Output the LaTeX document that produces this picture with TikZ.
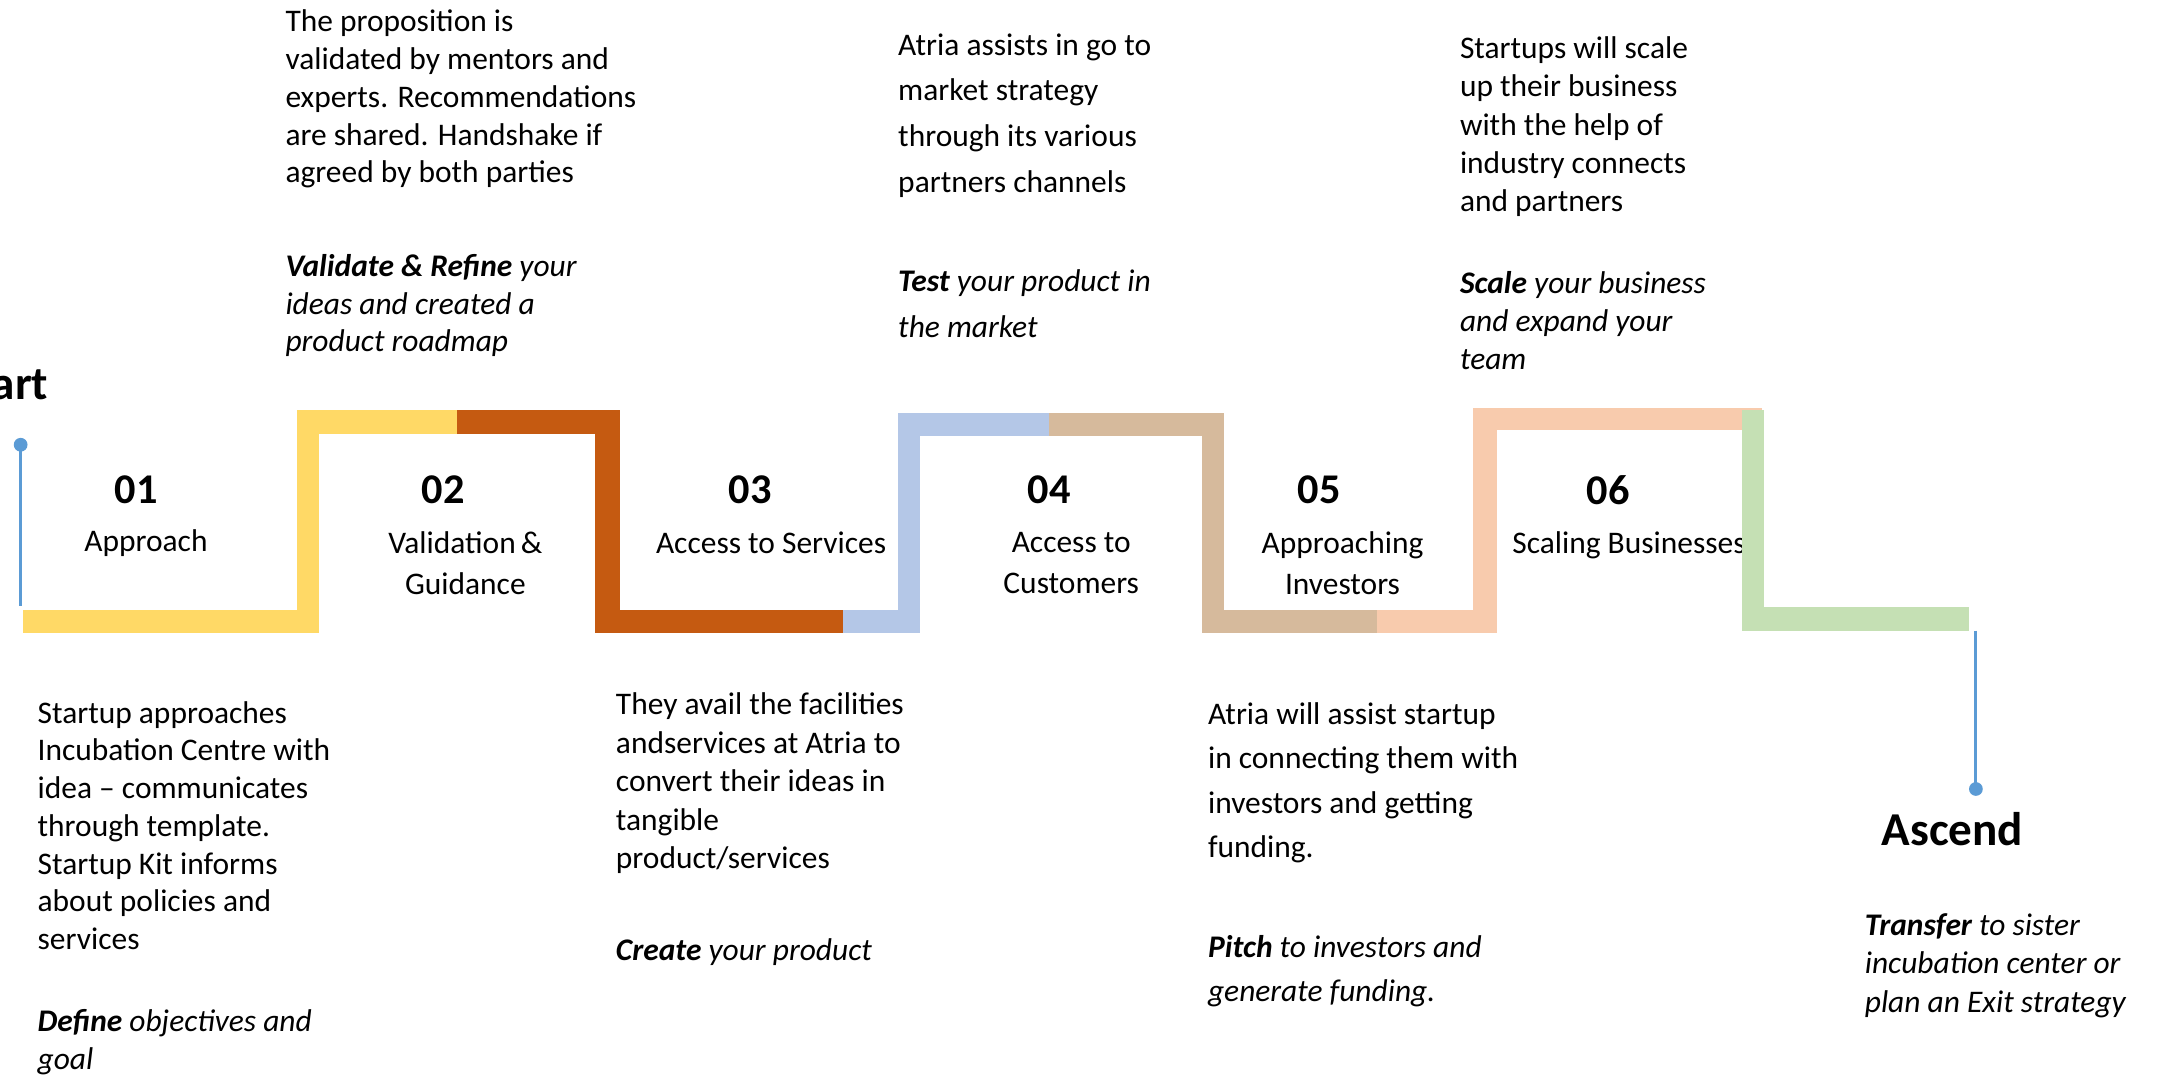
\documentclass[tikz,border=0pt]{standalone}
\usepackage{fontspec}
\setmainfont{Carlito}
\usepackage{tikz}
\usepackage{xcolor}

\definecolor{stepYellow}{HTML}{FFD966}
\definecolor{stepOrange}{HTML}{C55A11}
\definecolor{stepBlue}{HTML}{B4C7E7}
\definecolor{stepTan}{HTML}{D6BA9C}
\definecolor{stepPeach}{HTML}{F8CBAD}
\definecolor{stepGreen}{HTML}{C5E0B4}
\definecolor{pinBlue}{HTML}{5B9BD5}

\begin{document}
\begin{tikzpicture}[
        x=0.02cm, y=-0.02cm,
        desc/.style={anchor=north west, inner sep=0pt, align=left, font=\fontsize{13}{#1}\selectfont},
        desc/.default=15.6pt,
        num/.style={anchor=north, inner sep=0pt, font=\bfseries\fontsize{17.5}{21}\selectfont},
        lbl/.style={anchor=north, inner sep=0pt, align=center, font=\fontsize{13}{17}\selectfont},
        ends/.style={anchor=base, inner sep=0pt, font=\bfseries\fontsize{19.5}{23}\selectfont},
        pin/.style={pinBlue, line width=1.3pt},
    ]
    \useasboundingbox (0,0) rectangle (1568,781);

    % labels first, the bars go over them
    \node[num] (n1) at (99,345) {01};
    \node[num] (n2) at (322,345) {02};
    \node[num] (n3) at (545,345) {03};
    \node[num] (n4) at (762,345) {04};
    \node[num] (n5) at (958,345) {05};
    \node[num] (n6) at (1168,345) {06};

    \node[lbl] (l1) at (106,384) {Approach};
    \node[lbl] (l2) at (338,386) {Validation\,\&\\Guidance};
    \node[lbl] (l3) at (560,386) {Access to Services};
    \node[lbl] (l4) at (778,386) {Access to\\Customers};
    \node[lbl] (l5) at (975,386) {Approaching\\Investors};
    \node[lbl, anchor=north west] (l6) at (1098,386) {Scaling Businesses};

    % the stairs
    \fill[stepYellow] (17,443) rectangle (232,460);
    \fill[stepYellow] (216,298) rectangle (232,460);
    \fill[stepYellow] (216,298) rectangle (332,315);
    \fill[stepOrange] (332,298) rectangle (450,315);
    \fill[stepOrange] (432,298) rectangle (450,460);
    \fill[stepOrange] (432,443) rectangle (612,460);
    \fill[stepBlue] (612,443) rectangle (668,460);
    \fill[stepBlue] (652,300) rectangle (668,460);
    \fill[stepBlue] (652,300) rectangle (762,317);
    \fill[stepTan] (762,300) rectangle (889,317);
    \fill[stepTan] (873,300) rectangle (889,460);
    \fill[stepTan] (873,443) rectangle (1000,460);
    \fill[stepPeach] (1000,443) rectangle (1087,460);
    \fill[stepPeach] (1070,296) rectangle (1087,460);
    \fill[stepPeach] (1070,296) rectangle (1280,312);
    \fill[stepGreen] (1265,298) rectangle (1281,458);
    \fill[stepGreen] (1265,441) rectangle (1430,458);

    % start and end pins
    \coordinate (startpin) at (15,323);
    \coordinate (startfoot) at (15,440);
    \draw[pin] (startpin) -- (startfoot);
    \fill[pinBlue] (startpin) circle[radius=0.1cm];
    \node[ends, anchor=base west] (start) at (-34,290) {Start};

    \coordinate (endtop) at (1435,458);
    \coordinate (endpin) at (1435,573);
    \draw[pin] (endtop) -- (endpin);
    \fill[pinBlue] (endpin) circle[radius=0.1cm];
    \node[ends] (ascend) at (1418,614) {Ascend};

    % descriptions
    \node[desc] (d1) at (27,509) {Startup approaches\\Incubation Centre with\\idea -- communicates\\through template.\\Startup Kit informs\\about policies and\\services\\[18.3pt]\itshape\textbf{Define} objectives and\\\itshape goal};
    \node[desc] (d2) at (207,7) {The proposition is\\validated by mentors and\\experts. Recommendations\\are shared. Handshake if\\agreed by both parties\\[23pt]\itshape\textbf{Validate \& Refine} your\\\itshape ideas and created a\\\itshape product roadmap};
    \node[desc=15.9pt] (d3) at (447,503) {They avail the facilities\\andservices at Atria to\\convert their ideas in\\tangible\\product/services\\[22pt]\itshape\textbf{Create} your product};
    \node[desc=18.9pt] (d4) at (652,24) {Atria assists in go to\\market strategy\\through its various\\partners channels\\[22pt]\itshape\textbf{Test} your product in\\\itshape the market};
    \node[desc=18.3pt] (d5) at (877,510) {Atria will assist startup\\in connecting them with\\investors and getting\\funding.\\[23pt]\itshape\textbf{Pitch} to investors and\\\itshape generate funding.};
    \node[desc=15.9pt] (d6) at (1060,26) {Startups will scale\\up their business\\with the help of\\industry connects\\and partners\\[17.6pt]\itshape\textbf{Scale} your business\\\itshape and expand your\\\itshape team};
    \node[desc=15.9pt] (d7) at (1354,663) {\itshape\textbf{Transfer} to sister\\\itshape incubation center or\\\itshape plan an Exit strategy};
\end{tikzpicture}
\end{document}
